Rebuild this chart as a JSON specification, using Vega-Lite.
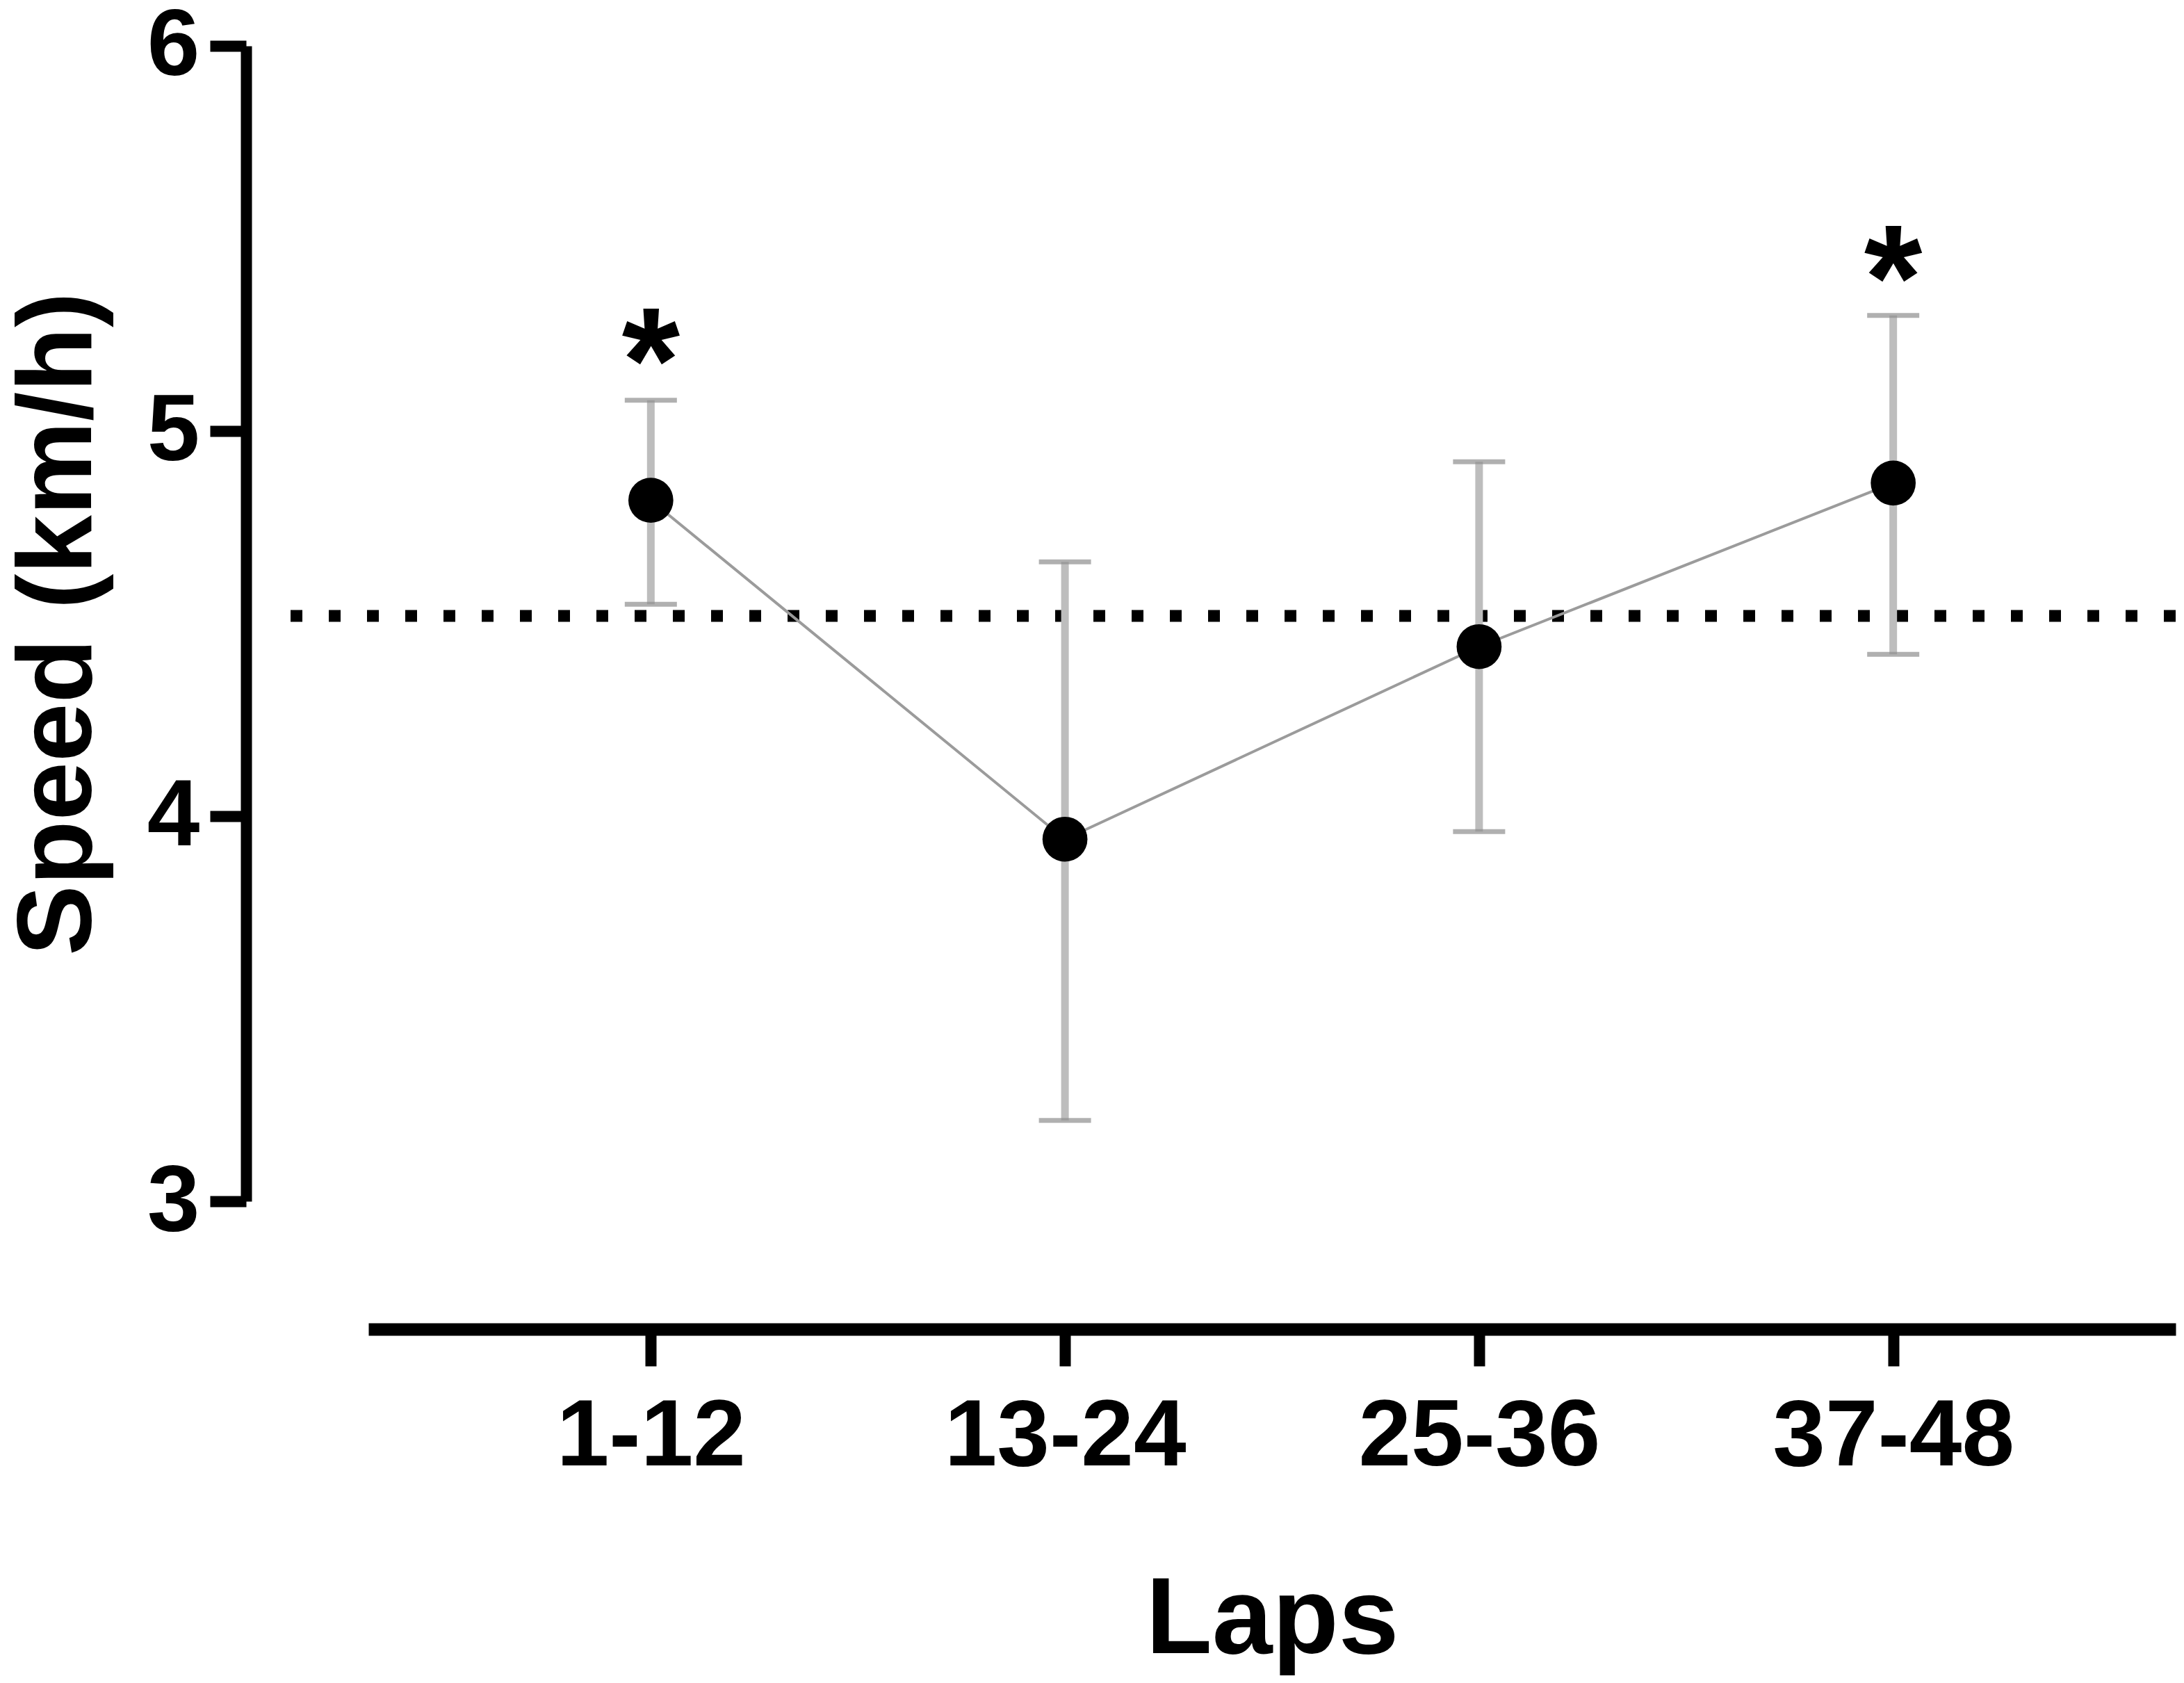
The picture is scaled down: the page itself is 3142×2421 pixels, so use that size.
{
  "$schema": "https://vega.github.io/schema/vega-lite/v6.json",
  "width": 2720,
  "height": 1662,
  "autosize": {"type": "none"},
  "padding": {"left": 410, "top": 66, "right": 12, "bottom": 693},
  "background": "white",
  "config": {
    "font": "Liberation Sans",
    "view": {"stroke": null},
    "axis": {"grid": false, "domainColor": "black", "tickColor": "black", "labelColor": "black", "titleColor": "black", "labelFontWeight": "bold", "titleFontWeight": "bold", "labelLimit": 0, "titleLimit": 0, "labelOverlap": false}
  },
  "datasets": {
    "laps": [
      {"laps": "1-12", "mean": 4.82, "lower": 4.55, "upper": 5.08},
      {"laps": "13-24", "mean": 3.94, "lower": 3.21, "upper": 4.66},
      {"laps": "25-36", "mean": 4.44, "lower": 3.96, "upper": 4.92},
      {"laps": "37-48", "mean": 4.865, "lower": 4.42, "upper": 5.30}
    ],
    "reference": [{"speed": 4.52}],
    "stars": [
      {"laps": "1-12", "label": "*", "pos": 5.05},
      {"laps": "37-48", "label": "*", "pos": 5.265}
    ]
  },
  "encoding": {
    "x": {
      "field": "laps",
      "type": "ordinal",
      "scale": {"type": "point", "domain": ["1-12", "13-24", "25-36", "37-48"], "range": [120, 2720], "padding": 0.682},
      "axis": {
        "title": "Laps",
        "labelAngle": 0,
        "offset": 184,
        "domainWidth": 18,
        "tickSize": 53,
        "tickWidth": 16,
        "labelFontSize": 136,
        "labelPadding": 35,
        "titleFontSize": 156,
        "titlePadding": 142
      }
    }
  },
  "layer": [
    {
      "data": {"name": "reference"},
      "mark": {"type": "rule", "color": "black", "strokeWidth": 17, "strokeDash": [17, 38]},
      "encoding": {
        "x": null,
        "y": {"field": "speed", "type": "quantitative", "scale": {"domain": [3, 6], "zero": false, "nice": false},
          "axis": {
            "title": "Speed (km/h)",
            "values": [3, 4, 5, 6],
            "format": "d",
            "offset": 56,
            "domainWidth": 16,
            "tickSize": 52,
            "tickWidth": 16,
            "labelFontSize": 136,
            "labelPadding": 15,
            "titleFontSize": 152,
            "titleAngle": -90,
            "titleBaseline": "alphabetic",
            "titleAlign": "center",
            "titleX": -224,
            "titleY": 831
          }
        }
      }
    },
    {
      "data": {"name": "laps"},
      "mark": {"type": "rule", "color": "#bdbdbd", "strokeWidth": 11},
      "encoding": {
        "y": {"field": "lower", "type": "quantitative"},
        "y2": {"field": "upper"}
      }
    },
    {
      "data": {"name": "laps"},
      "mark": {"type": "tick", "color": "#8e8e8e", "size": 75, "thickness": 7, "orient": "horizontal"},
      "encoding": {"y": {"field": "lower", "type": "quantitative"}}
    },
    {
      "data": {"name": "laps"},
      "mark": {"type": "tick", "color": "#8e8e8e", "size": 75, "thickness": 7, "orient": "horizontal"},
      "encoding": {"y": {"field": "upper", "type": "quantitative"}}
    },
    {
      "data": {"name": "laps"},
      "mark": {"type": "line", "color": "#9b9b9b", "strokeWidth": 4},
      "encoding": {"y": {"field": "mean", "type": "quantitative"}}
    },
    {
      "data": {"name": "laps"},
      "mark": {"type": "circle", "color": "black", "opacity": 1, "size": 4185},
      "encoding": {"y": {"field": "mean", "type": "quantitative"}}
    },
    {
      "data": {"name": "stars"},
      "mark": {"type": "text", "font": "Liberation Sans", "fontWeight": "bold", "fontSize": 215, "baseline": "alphabetic", "align": "center", "color": "black"},
      "encoding": {
        "y": {"field": "pos", "type": "quantitative"},
        "text": {"field": "label"}
      }
    }
  ]
}
